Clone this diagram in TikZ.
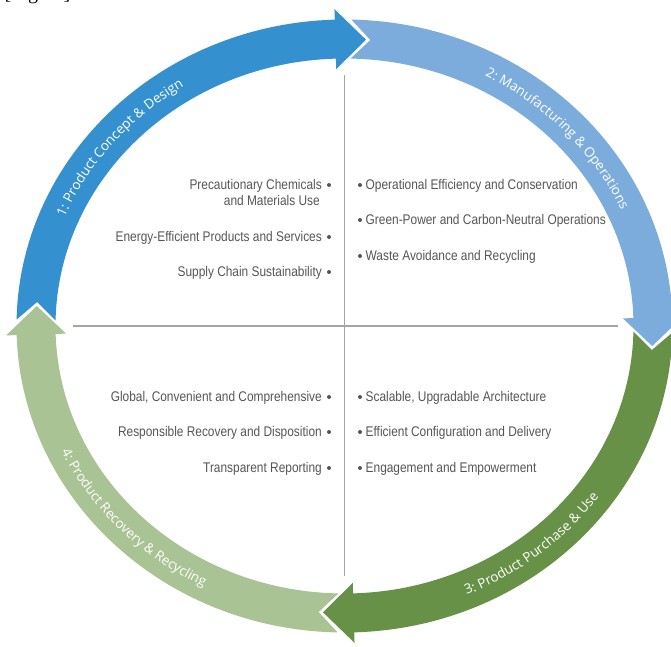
\documentclass[tikz,border=0pt]{standalone}
\usepackage{fontspec}
\setmainfont{Liberation Serif}
\newfontfamily\itemfont[FakeStretch=0.85]{Liberation Sans}
\newfontfamily\ringfont{Open Sans}
\usetikzlibrary{decorations.text}
\definecolor{cBlue}{RGB}{52,144,206}
\definecolor{cLightBlue}{RGB}{124,172,220}
\definecolor{cGreen}{RGB}{103,145,70}
\definecolor{cLightGreen}{RGB}{169,195,148}
\definecolor{cText}{RGB}{85,85,85}
\definecolor{cLine}{RGB}{165,165,165}
\def\RA{308.5}\def\RB{287}\def\RW{19.5}\def\HW{30}\def\HB{1.7}\def\HT{4.0}\def\GP{0.8}\def\CC{0.4}
% #1 colour, #2 head axis angle, #3 previous head axis angle
\newcommand\ringseg[3]{%
\fill[#1] ({(\RA+\RW)*cos(#3-\CC-\GP)},{(\RB+\RW)*sin(#3-\CC-\GP)})
  arc[start angle={#3-\CC-\GP}, end angle={#2+\HB}, x radius={(\RA+\RW)*1pt}, y radius={(\RB+\RW)*1pt}]
  -- ({(\RA+\HW)*cos(#2+\HB)},{(\RB+\HW)*sin(#2+\HB)})
  -- ({\RA*cos(#2-\HT)},{\RB*sin(#2-\HT)})
  -- ({(\RA-\HW)*cos(#2+\HB)},{(\RB-\HW)*sin(#2+\HB)})
  -- ({(\RA-\RW)*cos(#2+\HB)},{(\RB-\RW)*sin(#2+\HB)})
  arc[start angle={#2+\HB}, end angle={#3-\CC-\GP}, x radius={(\RA-\RW)*1pt}, y radius={(\RB-\RW)*1pt}]
  -- ({\RA*cos(#3-\HT-\GP)},{\RB*sin(#3-\HT-\GP)})
  -- cycle;}
% #1 text, #2 start angle, #3 end angle, #4 radial offset
\newcommand\ringlabel[4]{%
\path[decorate, decoration={text along path, text align=center, text color=white,
  text={|\ringfont\fontsize{13.5}{16}\selectfont|#1}}]
  ({(\RA+#4)*cos(#2)},{(\RB+#4)*sin(#2)})
  arc[start angle=#2, end angle=#3, x radius={(\RA+#4)*1pt}, y radius={(\RB+#4)*1pt}];}
\begin{document}
\begin{tikzpicture}[x=1pt,y=1pt,
  itemL/.style={anchor=base east, inner sep=0pt, text=cText, font=\itemfont\fontsize{14}{16}\selectfont},
  itemR/.style={anchor=base west, inner sep=0pt, text=cText, font=\itemfont\fontsize{14}{16}\selectfont},
  bullet/.style={circle, fill=cText, inner sep=0pt, minimum size=4pt},
  axis/.style={draw=cLine, line width=1.8pt}]
\useasboundingbox (-344.5,-320) rectangle (326.5,326);
% caption remnant at the top
\node[anchor=base west, inner sep=0pt, font=\fontsize{20}{22}\selectfont] (fig) at (-340,326.5) {[Figure]};
% ring
\ringseg{cBlue}{90}{180}
\ringseg{cLightBlue}{0}{90}
\ringseg{cGreen}{-90}{0}
\ringseg{cLightGreen}{-180}{-90}
\ringlabel{1: Product Concept {\&} Design}{172}{108}{-5}
\ringlabel{2: Manufacturing {\&} Operations}{75}{11}{-5}
\ringlabel{3: Product Purchase {\&} Use}{-83}{-19}{5}
\ringlabel{4: Product Recovery {\&} Recycling}{192}{256}{5}
% axes
\coordinate (vt) at (0,251);
\coordinate (vb) at (0,-250);
\coordinate (hl) at (-271,0);
\coordinate (hr) at (273,0);
\draw[axis] (vt) -- (vb);
\draw[axis] (hl) -- (hr);
% upper left
\node[itemL] (ul1) at (-22.5,137) {Precautionary Chemicals};
\node[itemL] (ul1b) at (-24.5,121) {and Materials Use};
\node[itemL] (ul2) at (-22.5,85) {Energy-Efficient Products and Services};
\node[itemL] (ul3) at (-22.5,50) {Supply Chain Sustainability};
\node[bullet] (bul1) at (-15.5,141) {};
\node[bullet] (bul2) at (-15.5,89) {};
\node[bullet] (bul3) at (-15.5,54) {};
% upper right
\node[itemR] (ur1) at (21,137) {Operational Efficiency and Conservation};
\node[itemR] (ur2) at (21,102) {Green-Power and Carbon-Neutral Operations};
\node[itemR] (ur3) at (21,66) {Waste Avoidance and Recycling};
\node[bullet] (bur1) at (15.5,141) {};
\node[bullet] (bur2) at (15.5,106) {};
\node[bullet] (bur3) at (15.5,70) {};
% lower left
\node[itemL] (ll1) at (-22.5,-75) {Global, Convenient and Comprehensive};
\node[itemL] (ll2) at (-22.5,-110) {Responsible Recovery and Disposition};
\node[itemL] (ll3) at (-22.5,-146) {Transparent Reporting};
\node[bullet] (bll1) at (-15.5,-71) {};
\node[bullet] (bll2) at (-15.5,-106) {};
\node[bullet] (bll3) at (-15.5,-142) {};
% lower right
\node[itemR] (lr1) at (21,-75) {Scalable, Upgradable Architecture};
\node[itemR] (lr2) at (21,-110) {Efficient Configuration and Delivery};
\node[itemR] (lr3) at (21,-146) {Engagement and Empowerment};
\node[bullet] (blr1) at (15.5,-71) {};
\node[bullet] (blr2) at (15.5,-106) {};
\node[bullet] (blr3) at (15.5,-142) {};
\end{tikzpicture}
\end{document}
